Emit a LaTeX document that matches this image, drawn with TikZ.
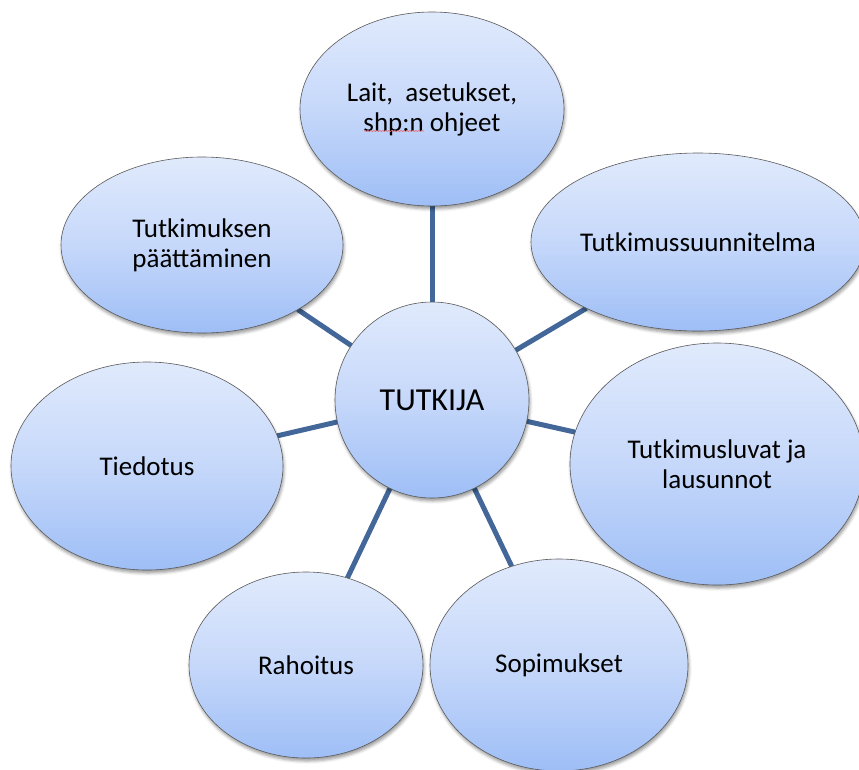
\documentclass[tikz,border=0pt]{standalone}
\usepackage{fontspec}
\setmainfont{Carlito}
\usetikzlibrary{shapes.geometric,shadows.blur,decorations.pathmorphing}
\definecolor{linkblue}{RGB}{66,103,152}
\definecolor{filltop}{RGB}{224,234,252}
\definecolor{fillmid}{RGB}{198,216,250}
\definecolor{fillbot}{RGB}{158,190,246}
\definecolor{rimgray}{RGB}{90,90,90}
\definecolor{squiggle}{RGB}{225,110,120}
\pgfdeclarelayer{bg}
\pgfsetlayers{bg,main}
\begin{document}
\begin{tikzpicture}[x=1pt,y=-1pt,
  bubble/.style={ellipse, draw=rimgray, line width=0.6pt, inner sep=0pt, outer sep=0pt,
    top color=filltop, bottom color=fillbot, middle color=fillmid,
    align=center, font=\fontsize{27}{30}\selectfont,
    blur shadow={shadow xshift=1pt, shadow yshift=-3pt, shadow blur radius=3pt, shadow opacity=40}},
  link/.style={draw=linkblue, line width=5pt}]
\useasboundingbox (0,0) rectangle (859,769);

\node[bubble, minimum width=194pt, minimum height=196pt, font=\fontsize{32}{36}\selectfont] (c) at (432,400) {TUTKIJA};
\node[bubble, minimum width=264pt, minimum height=194pt] (laws) at (432,109) {Lait,\ \ asetukset,\\shp:n ohjeet};
\node[bubble, minimum width=334pt, minimum height=178pt] (plan) at (698,242) {Tutkimussuunnitelma};
\node[bubble, minimum width=294pt, minimum height=242pt] (perm) at (717,464) {Tutkimusluvat ja\\lausunnot};
\node[bubble, minimum width=258pt, minimum height=212pt] (contr) at (559,665) {Sopimukset};
\node[bubble, minimum width=234pt, minimum height=186pt] (fund) at (306,665) {Rahoitus};
\node[bubble, minimum width=272pt, minimum height=208pt] (info) at (147,466) {Tiedotus};
\node[bubble, minimum width=282pt, minimum height=176pt] (endn) at (202,245) {Tutkimuksen\\päättäminen};

\draw[squiggle, line width=0.7pt, decorate, decoration={snake, amplitude=0.5pt, segment length=3pt}]
  ([shift={(-68,22)}]laws.center) -- ++(60,0);

\begin{pgfonlayer}{bg}
\draw[link] (c) -- (laws);
\draw[link] (c) -- (plan);
\draw[link] (c) -- (perm);
\draw[link] (c) -- (contr);
\draw[link] (c) -- (fund);
\draw[link] (c) -- (info);
\draw[link] (c) -- (endn);
\end{pgfonlayer}
\end{tikzpicture}
\end{document}
